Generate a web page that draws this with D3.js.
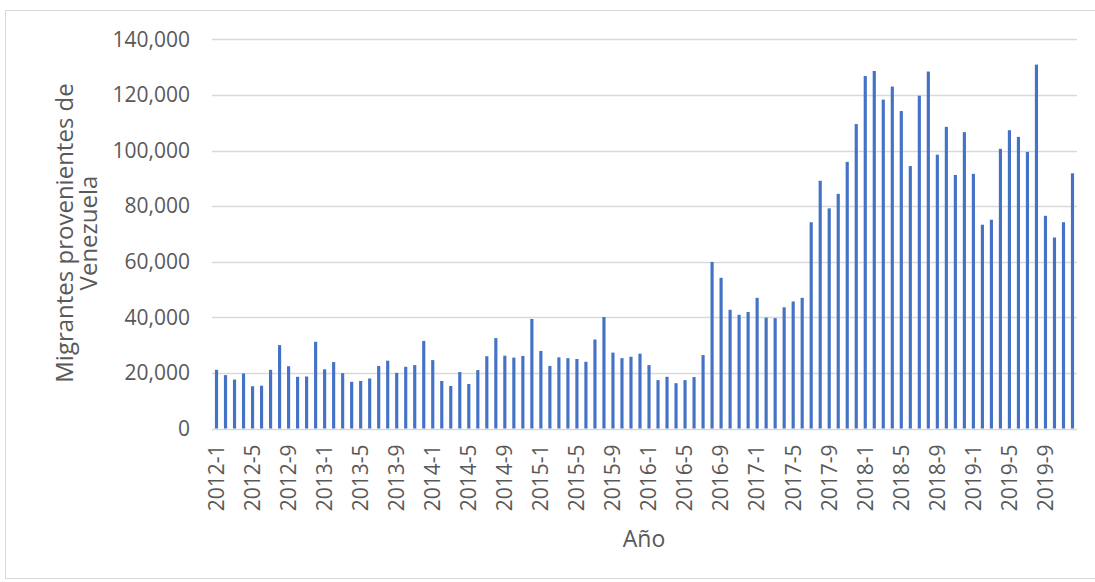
<!DOCTYPE html>
<html>
<head>
<meta charset="utf-8">
<script src="https://cdn.jsdelivr.net/npm/d3@7"></script>
<style>
  html, body { margin: 0; padding: 0; background: #fff; }
  svg { display: block; }
  text { font-family: "Open Sans", "Noto Sans", sans-serif; fill: #595959; }
</style>
</head>
<body>
<svg id="chart" width="1095" height="582"></svg>
<script>
const years = [2012, 2013, 2014, 2015, 2016, 2017, 2018, 2019];
const months = [1, 2, 3, 4, 5, 6, 7, 8, 9, 10, 11, 12];
const categories = years.flatMap(y => months.map(m => y + "-" + m));

const migrants = [
  21100, 19200, 17600, 19800, 15200, 15400, 21100, 30000, 22400, 18600, 18700, 31200,
  21300, 23900, 19900, 16800, 17100, 18000, 22500, 24400, 20000, 22200, 22800, 31500,
  24600, 17100, 15300, 20300, 16000, 21000, 26000, 32500, 26200, 25500, 26100, 39400,
  27900, 22500, 25600, 25300, 25000, 24000, 32000, 40100, 27300, 25300, 25800, 26900,
  22800, 17400, 18600, 16300, 17400, 18500, 26400, 59900, 54200, 42700, 40900, 41900,
  47000, 39900, 39700, 43600, 45700, 47000, 74200, 89100, 79200, 84400, 95900, 109500,
  126800, 128600, 118300, 123000, 114200, 94400, 119700, 128400, 98500, 108500, 91200, 106600,
  91600, 73300, 75100, 100600, 107300, 104900, 99500, 130900, 76500, 68700, 74200, 91800
];

const yTicks = [0, 20000, 40000, 60000, 80000, 100000, 120000, 140000];
const yTitleLines = ["Migrantes provenientes de", "Venezuela"];
const xTitle = "Año";

const svg = d3.select("#chart");
const plotLeft = 212, plotRight = 1077, plotTop = 39.3, plotBottom = 428.5;

// outer border
svg.append("rect")
  .attr("x", 5.5).attr("y", 10.5)
  .attr("width", 1100).attr("height", 568)
  .attr("fill", "none").attr("stroke", "#d9d9d9").attr("stroke-width", 1);

const x = d3.scaleBand()
  .domain(categories)
  .range([plotLeft, plotRight])
  .paddingInner(0.65)
  .paddingOuter(0.325);

const y = d3.scaleLinear()
  .domain([0, 140000])
  .range([plotBottom, plotTop]);

// gridlines
svg.append("g")
  .selectAll("line")
  .data(yTicks)
  .join("line")
  .attr("x1", plotLeft).attr("x2", plotRight)
  .attr("y1", d => Math.round(y(d)) + 0.5)
  .attr("y2", d => Math.round(y(d)) + 0.5)
  .attr("stroke", "#d9d9d9")
  .attr("stroke-width", 1.3);

// y axis labels
const yAxis = d3.axisLeft(y)
  .tickValues(yTicks)
  .tickFormat(d3.format(","))
  .tickSize(0)
  .tickPadding(22);
const yg = svg.append("g").attr("transform", `translate(${plotLeft},0)`).call(yAxis);
yg.select(".domain").remove();
yg.selectAll("text")
  .style("font-family", "'Open Sans', sans-serif")
  .style("font-size", "21px")
  .attr("fill", "#595959");

// bars
svg.append("g")
  .selectAll("rect")
  .data(migrants)
  .join("rect")
  .attr("x", (d, i) => x(categories[i]))
  .attr("width", x.bandwidth())
  .attr("y", d => y(d))
  .attr("height", d => y(0) - y(d))
  .attr("fill", "#4472c4");

// x axis labels (every 4th month)
const xAxis = d3.axisBottom(x)
  .tickValues(categories.filter((c, i) => i % 4 === 0))
  .tickSize(0)
  .tickPadding(0);
const xg = svg.append("g").attr("transform", `translate(0,${plotBottom})`).call(xAxis);
xg.select(".domain").remove();
xg.selectAll("text")
  .style("font-family", "'Open Sans', sans-serif")
  .style("font-size", "21px")
  .attr("fill", "#595959")
  .attr("text-anchor", "end")
  .attr("transform", "translate(0,16) rotate(-90)")
  .attr("x", 0)
  .attr("y", 0)
  .attr("dy", "0.35em");

// y title
const yt = svg.append("text")
  .attr("transform", "rotate(-90)")
  .attr("text-anchor", "middle")
  .style("font-size", "24px");
yt.selectAll("tspan")
  .data(yTitleLines)
  .join("tspan")
  .attr("x", -233)
  .attr("y", (d, i) => 73 + i * 24)
  .text(d => d);

// x title
svg.append("text")
  .attr("x", 644)
  .attr("y", 547)
  .attr("text-anchor", "middle")
  .style("font-size", "23px")
  .text(xTitle);
</script>
</body>
</html>
